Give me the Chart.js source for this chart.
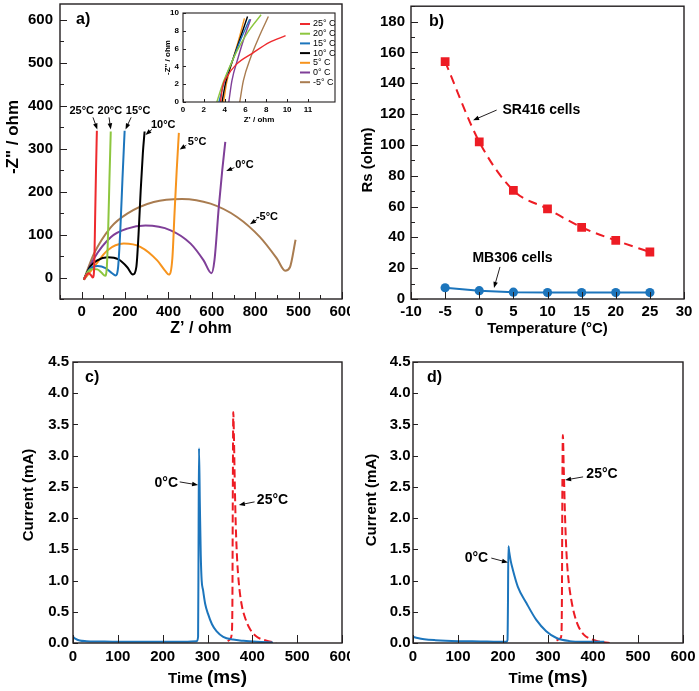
<html>
<head>
<script src="https://cdn.jsdelivr.net/npm/chart.js@4.4.3/dist/chart.umd.min.js"></script>
<style>
  body { margin: 0; background: #fff; }
  canvas { position: absolute; }
</style>
</head>
<body>
<canvas id="pa" width="350" height="340" style="left:0;top:0"></canvas>
<canvas id="pins" width="185" height="124" style="left:155px;top:6px"></canvas>
<canvas id="pb" width="349" height="340" style="left:350px;top:0"></canvas>
<canvas id="pc" width="350" height="351" style="left:0;top:340px"></canvas>
<canvas id="pd" width="349" height="351" style="left:350px;top:340px"></canvas>
<script>
    // ---- panel a: Nyquist curves (x on the plotted scale) ----
    const aTemps = ['25', '20', '15', '10', '5', '0', '-5'];
    const aColors = ['#ee2a2e', '#8dc63f', '#1c75bc', '#000000', '#f7941d', '#7f3f98', '#a97c50'];
    const aX = [
        [5, 11, 16, 21, 26, 29, 31, 33, 35],
        [5, 14, 25, 36, 46, 54, 58, 61, 64, 67],
        [5, 18, 37, 55, 70, 78, 84, 89, 94, 99],
        [5, 20, 36, 60, 85, 105, 118, 126, 131, 136, 141, 145],
        [5, 28, 59, 97, 136, 174, 193, 201, 209, 214, 219, 224],
        [5, 28, 67, 105, 147, 205, 251, 281, 299, 306, 316, 324, 331],
        [5, 28, 67, 105, 166, 231, 297, 358, 411, 450, 469, 480, 493]
    ];
    const aY = [
        [-5, 6, 10, 6, 0, 30, 140, 250, 342],
        [-5, 13, 20, 19, 11, 4, 25, 110, 230, 340],
        [-5, 19, 27, 22, 10, 5, 25, 110, 230, 342],
        [-5, 26, 40, 47, 42, 24, 7, 25, 100, 203, 290, 340],
        [-5, 24, 63, 79, 71, 40, 15, 7, 45, 150, 250, 337],
        [-5, 44, 94, 114, 121, 110, 79, 40, 10, 40, 164, 250, 316],
        [-5, 55, 117, 149, 176, 183, 172, 141, 94, 44, 16, 24, 88]
    ];
    const aXLabels = ['0', '200', '400', '600', '800', '500', '600'];

    // inset of panel a
    const insX = [
        [3.6, 3.8, 4.2, 5.1, 6.7, 8.3, 9.85],
        [3.25, 3.8, 4.5, 5.3, 6.2, 7.5],
        [3.45, 4.0, 4.8, 5.5, 6.4],
        [3.75, 4.1, 4.8, 5.5, 6.2],
        [3.9, 4.2, 4.8, 5.4, 5.9],
        [4.4, 4.7, 5.3, 5.9, 6.5],
        [5.45, 5.8, 6.5, 7.3, 8.2]
    ];
    const insY = [
        [0, 1.7, 2.8, 4.2, 5.5, 6.7, 7.45],
        [0, 2, 4, 6, 7.8, 9.8],
        [0, 2.4, 4.8, 6.9, 9.3],
        [0, 2.2, 4.8, 7.2, 9.6],
        [0, 2.2, 4.8, 7.2, 9.4],
        [0, 2.4, 5.0, 7.3, 9.3],
        [0, 2.4, 5.0, 7.3, 9.6]
    ];
    const insXLabels = ['0', '2', '4', '6', '8', '10', '11'];

    // ---- panel b: Rs vs temperature ----
    const bTemp = [-5, 0, 5, 10, 15, 20, 25];
    const bSR416 = [154, 102, 70.5, 58.5, 46.5, 38, 30.5];
    const bMB306 = [7.3, 5.4, 4.4, 4.2, 4.2, 4.2, 4.2];

    // ---- panel c: current transients ----
    const cBlueT = [0, 5, 15, 30, 60, 100, 150, 200, 250, 276, 279, 280, 281, 283, 285, 287, 290, 295, 301, 310, 320, 335, 357, 380, 410, 446];
    const cBlueI = [0.1, 0.07, 0.04, 0.03, 0.025, 0.02, 0.02, 0.02, 0.02, 0.03, 0.1, 1.5, 3.12, 2.2, 1.4, 1.0, 0.85, 0.62, 0.47, 0.3, 0.19, 0.1, 0.055, 0.035, 0.02, 0.01];
    const cRedT = [345, 349, 352, 354, 355.5, 356.5, 357.5, 359, 361, 363, 366, 370, 376, 385, 395, 410, 430, 453];
    const cRedI = [0.03, 0.05, 0.08, 0.15, 0.6, 2.5, 3.7, 3.3, 2.5, 1.9, 1.35, 0.95, 0.62, 0.38, 0.22, 0.1, 0.04, 0.0];

    // ---- panel d ----
    const dBlueT = [0, 10, 25, 50, 100, 150, 190, 208, 210, 211, 212, 214, 217, 222, 233, 252, 274, 296, 319, 348, 378, 425];
    const dBlueI = [0.1, 0.08, 0.06, 0.045, 0.03, 0.025, 0.02, 0.02, 0.05, 0.6, 1.55, 1.45, 1.32, 1.17, 0.9, 0.64, 0.37, 0.19, 0.08, 0.03, 0.02, 0.02];
    const dRedT = [319, 324, 328, 330, 331, 332, 333, 335, 338, 341, 345, 352, 360, 368, 380, 393, 410, 437];
    const dRedI = [0.04, 0.06, 0.08, 0.15, 0.8, 2.6, 3.33, 2.8, 2.0, 1.45, 1.05, 0.68, 0.42, 0.26, 0.13, 0.07, 0.03, 0.0];

    const FAM = '"Liberation Sans", Arial, Helvetica, sans-serif';
    const BLUE = '#1c75bc', RED = '#ed1c24';

    function pts(xs, ys) {
        return xs.map((x, i) => ({x: x, y: ys[i]}));
    }

    function arrow(ctx, x1, y1, x2, y2, h) {
        const a = Math.atan2(y2 - y1, x2 - x1);
        const c = Math.cos(a), s = Math.sin(a);
        ctx.beginPath();
        ctx.moveTo(x1, y1);
        ctx.lineTo(x2 - c * h * 0.7, y2 - s * h * 0.7);
        ctx.stroke();
        ctx.beginPath();
        ctx.moveTo(x2, y2);
        ctx.lineTo(x2 - h * c + h * 0.38 * s, y2 - h * s - h * 0.38 * c);
        ctx.lineTo(x2 - h * c - h * 0.38 * s, y2 - h * s + h * 0.38 * c);
        ctx.closePath();
        ctx.fill();
    }

    // frame, inward ticks, panel letter, y title, arrows with notes, legend
    function makeDeco(cfg) {
        return {
            id: 'deco',
            afterDatasetsDraw(chart) {
                const ctx = chart.ctx, ca = chart.chartArea;
                const xs = chart.scales.x, ys = chart.scales.y;
                ctx.save();
                ctx.strokeStyle = '#231f20';
                ctx.fillStyle = '#000';
                ctx.lineWidth = 1;
                xs.ticks.forEach(t => {
                    const L = cfg.xt(t.value);
                    if (!L || t.value < xs.min || t.value > xs.max) return;
                    const p = Math.round(xs.getPixelForValue(t.value)) + 0.5;
                    ctx.beginPath(); ctx.moveTo(p, ca.bottom); ctx.lineTo(p, ca.bottom - L); ctx.stroke();
                });
                ys.ticks.forEach(t => {
                    const L = cfg.yt(t.value);
                    if (!L || t.value < ys.min || t.value > ys.max) return;
                    const p = Math.round(ys.getPixelForValue(t.value)) + 0.5;
                    ctx.beginPath(); ctx.moveTo(ca.left, p); ctx.lineTo(ca.left + L, p); ctx.stroke();
                });
                ctx.lineWidth = cfg.frame || 1.4;
                ctx.strokeRect(ca.left, ca.top, ca.right - ca.left, ca.bottom - ca.top);

                if (cfg.letter) {
                    ctx.font = 'bold 16px ' + FAM;
                    ctx.textAlign = 'left';
                    ctx.textBaseline = 'alphabetic';
                    ctx.fillText(cfg.letter, ca.left + cfg.letterAt[0], ca.top + cfg.letterAt[1]);
                }

                if (cfg.yTitle) {
                    const t = cfg.yTitle;
                    ctx.save();
                    ctx.translate(t.x, t.y);
                    ctx.rotate(-Math.PI / 2);
                    ctx.font = 'bold ' + t.fs + 'px ' + FAM;
                    ctx.textAlign = 'center';
                    ctx.textBaseline = 'middle';
                    ctx.fillText(t.text, 0, 0);
                    ctx.restore();
                }

                ctx.lineWidth = 1;
                (cfg.notes || []).forEach(n => {
                    ctx.font = 'bold ' + n.fs + 'px ' + FAM;
                    ctx.textAlign = 'center';
                    ctx.textBaseline = 'middle';
                    ctx.fillText(n.text, xs.getPixelForValue(n.at[0]), ys.getPixelForValue(n.at[1]));
                    arrow(ctx, xs.getPixelForValue(n.from[0]), ys.getPixelForValue(n.from[1]),
                        xs.getPixelForValue(n.to[0]), ys.getPixelForValue(n.to[1]), n.head || 6);
                });

                if (cfg.legend) {
                    ctx.font = '9px ' + FAM;
                    ctx.textAlign = 'left';
                    ctx.textBaseline = 'middle';
                    chart.data.datasets.forEach((ds, i) => {
                        const y = ca.top + 11 + i * 9.7;
                        ctx.strokeStyle = ds.borderColor;
                        ctx.lineWidth = 2;
                        ctx.beginPath(); ctx.moveTo(ca.right - 35, y); ctx.lineTo(ca.right - 25, y); ctx.stroke();
                        ctx.fillText(ds.label, ca.right - 22, y);
                    });
                }

                if (cfg.timeTitle) {
                    const cx = (ca.left + ca.right) / 2, by = ca.bottom + 40;
                    ctx.font = 'bold 15px ' + FAM;
                    const w1 = ctx.measureText('Time ').width;
                    ctx.font = 'bold 19px ' + FAM;
                    const w2 = ctx.measureText('(ms)').width;
                    const x0 = cx - (w1 + w2) / 2;
                    ctx.textAlign = 'left';
                    ctx.textBaseline = 'alphabetic';
                    ctx.font = 'bold 15px ' + FAM;
                    ctx.fillText('Time ', x0, by);
                    ctx.font = 'bold 19px ' + FAM;
                    ctx.fillText('(ms)', x0 + w1, by);
                }
                ctx.restore();
            }
        };
    }

    function axis(o) {
        return {
            type: 'linear',
            min: o.min,
            max: o.max,
            grid: {display: false, drawTicks: false},
            border: {display: false},
            ticks: {
                stepSize: o.step,
                autoSkip: false,
                includeBounds: false,
                maxRotation: 0,
                padding: o.pad,
                color: '#000',
                font: {family: FAM, weight: 'bold', size: o.fs || 15},
                callback: o.cb
            },
            title: {
                display: !!o.title,
                text: o.title,
                color: '#000',
                font: {family: FAM, weight: 'bold', size: o.tfs || 15},
                padding: {top: o.tpad || 0, bottom: o.tpad || 0}
            },
            afterFit: s => {
                if (o.horiz) s.height = o.size; else s.width = o.size;
                s.paddingLeft = 0; s.paddingRight = 0; s.paddingTop = 0; s.paddingBottom = 0;
            }
        };
    }

    function base(padding, x, y) {
        return {
            responsive: false,
            animation: false,
            devicePixelRatio: 1,
            events: [],
            layout: {padding: padding},
            plugins: {legend: {display: false}, tooltip: {enabled: false}},
            scales: {x: x, y: y}
        };
    }

    // panel a
    new Chart(document.getElementById('pa'), {
        type: 'scatter',
        data: {
            datasets: aTemps.map((t, i) => ({
                label: t + '° C',
                data: pts(aX[i], aY[i]),
                showLine: true,
                borderColor: aColors[i],
                borderWidth: 2,
                pointRadius: 0,
                cubicInterpolationMode: 'monotone'
            }))
        },
        options: base({left: 0, top: 4, right: 8, bottom: 0},
            axis({min: -50, max: 600, step: 50, pad: 4, horiz: true, size: 41, title: 'Z’ / ohm', tfs: 16, tpad: 1.4,
                cb: v => (v >= 0 && v % 100 === 0) ? aXLabels[v / 100] : ''}),
            axis({min: -50, max: 637, step: 50, pad: 7, size: 60,
                cb: v => (v % 100 === 0 && v <= 600) ? String(v) : ''})),
        plugins: [makeDeco({
            xt: v => v % 100 === 0 ? 7 : 4,
            yt: v => v % 100 === 0 ? 7 : 4,
            letter: 'a)', letterAt: [16, 19.5],
            yTitle: {text: '-Z" / ohm', x: 13, y: 137, fs: 17},
            notes: [
                {text: '25°C', fs: 11, at: [0, 389], from: [26, 373], to: [36, 345]},
                {text: '20°C', fs: 11, at: [65, 389], from: [63, 373], to: [67, 345]},
                {text: '15°C', fs: 11, at: [130, 389], from: [114, 373], to: [101, 345]},
                {text: '10°C', fs: 11, at: [188, 355], from: [162, 345], to: [147, 332]},
                {text: '5°C', fs: 11, at: [266, 316], from: [241, 308], to: [226, 298]},
                {text: '0°C', fs: 11, at: [375, 262], from: [352, 256], to: [333, 248]},
                {text: '-5°C', fs: 11, at: [427, 141], from: [404, 135], to: [388, 124]}
            ]
        })]
    });

    // inset
    new Chart(document.getElementById('pins'), {
        type: 'scatter',
        data: {
            datasets: aTemps.map((t, i) => ({
                label: t + '° C',
                data: pts(insX[i], insY[i]),
                showLine: true,
                borderColor: aColors[i],
                borderWidth: 1.4,
                pointRadius: 0,
                cubicInterpolationMode: 'monotone'
            }))
        },
        options: base({left: 0, top: 7, right: 5, bottom: 0},
            axis({min: 0, max: 14.6, step: 2, pad: 2.5, horiz: true, size: 28, fs: 8, title: 'Z’ / ohm', tfs: 8, tpad: 5,
                cb: v => insXLabels[v / 2] || ''}),
            axis({min: 0, max: 10, step: 2, pad: 4, size: 28, fs: 8, title: '-Z" / ohm', tfs: 8, tpad: 8,
                cb: v => String(v)})),
        plugins: [makeDeco({
            xt: v => v <= 12 ? 3 : 0,
            yt: v => 3,
            frame: 1.1,
            legend: true
        })]
    });

    // panel b
    new Chart(document.getElementById('pb'), {
        type: 'scatter',
        data: {
            datasets: [
                {
                    label: 'SR416 cells',
                    data: pts(bTemp, bSR416),
                    showLine: true,
                    borderColor: RED,
                    backgroundColor: RED,
                    borderWidth: 2,
                    borderDash: [9, 6],
                    pointStyle: 'rect',
                    pointRadius: 6.2,
                    pointBorderWidth: 0,
                    cubicInterpolationMode: 'monotone'
                },
                {
                    label: 'MB306 cells',
                    data: pts(bTemp, bMB306),
                    showLine: true,
                    borderColor: BLUE,
                    backgroundColor: BLUE,
                    borderWidth: 2,
                    pointStyle: 'circle',
                    pointRadius: 4.6,
                    pointBorderWidth: 0
                }
            ]
        },
        options: base({left: 0, top: 4, right: 15, bottom: 0},
            axis({min: -10, max: 30, step: 5, pad: 3.5, horiz: true, size: 41, title: 'Temperature (°C)', tpad: 2,
                cb: v => String(v)}),
            axis({min: 0, max: 190, step: 10, pad: 6, size: 61,
                cb: v => (v % 20 === 0 && v <= 180) ? String(v) : ''})),
        plugins: [makeDeco({
            xt: v => 7,
            yt: v => v % 20 === 0 ? 7 : 4,
            letter: 'b)', letterAt: [18, 19.5],
            yTitle: {text: 'Rs (ohm)', x: 18, y: 160, fs: 15},
            notes: [
                {text: 'SR416 cells', fs: 14, at: [9.1, 122.8], from: [2.55, 122.6], to: [-0.9, 116]},
                {text: 'MB306 cells', fs: 14, at: [4.87, 26.2], from: [3.04, 20.8], to: [2.16, 7.2]}
            ]
        })]
    });

    function currentChart(id, blueT, blueI, redT, redI, padRight, ySize, yPad, yTitle, letterDx, notes) {
        return new Chart(document.getElementById(id), {
            type: 'scatter',
            data: {
                datasets: [
                    {
                        label: '0°C',
                        data: pts(blueT, blueI),
                        showLine: true,
                        borderColor: BLUE,
                        borderWidth: 2,
                        pointRadius: 0,
                        cubicInterpolationMode: 'monotone'
                    },
                    {
                        label: '25°C',
                        data: pts(redT, redI),
                        showLine: true,
                        borderColor: RED,
                        borderWidth: 2,
                        borderDash: [8, 4],
                        pointRadius: 0,
                        cubicInterpolationMode: 'monotone'
                    }
                ]
            },
            options: base({left: 0, top: 22, right: padRight, bottom: 0},
                axis({min: 0, max: 600, step: 100, pad: 5, horiz: true, size: 48, cb: v => String(v)}),
                axis({min: 0, max: 4.5, step: 0.5, pad: yPad, size: ySize, cb: v => v.toFixed(1)})),
            plugins: [makeDeco({
                xt: v => 8,
                yt: v => 5,
                letter: id === 'pc' ? 'c)' : 'd)', letterAt: [letterDx, 19.5],
                yTitle: {text: 'Current (mA)', x: yTitle[0], y: yTitle[1], fs: 15},
                timeTitle: true,
                notes: notes
            })]
        });
    }

    currentChart('pc', cBlueT, cBlueI, cRedT, cRedI, 8, 73, 4, [29, 155], 12, [
        {text: '0°C', fs: 14, at: [208, 2.56], from: [238, 2.58], to: [279, 2.53]},
        {text: '25°C', fs: 14, at: [445, 2.29], from: [405, 2.26], to: [370, 2.21]}
    ]);
    currentChart('pd', dBlueT, dBlueI, dRedT, dRedI, 16, 63, 2.5, [22, 160], 14, [
        {text: '25°C', fs: 14, at: [420, 2.70], from: [378, 2.66], to: [338, 2.61]},
        {text: '0°C', fs: 14, at: [141, 1.36], from: [174, 1.36], to: [211, 1.29]}
    ]);
</script>
</body>
</html>
